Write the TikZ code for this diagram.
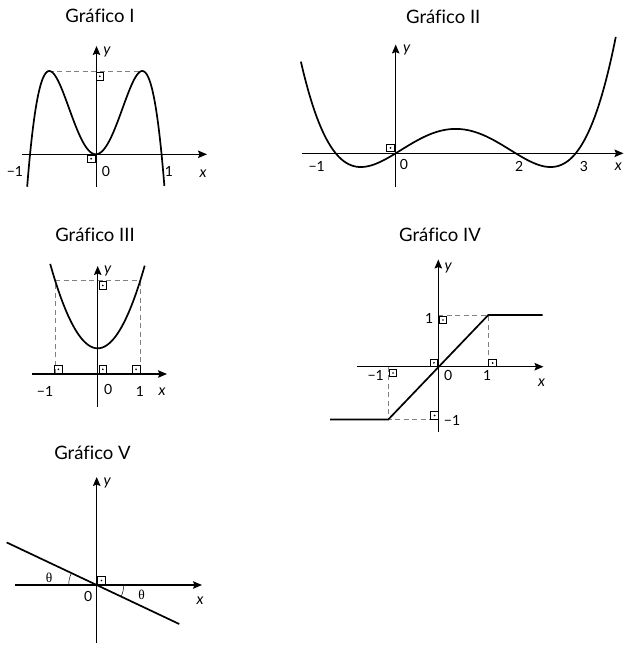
\documentclass[tikz,border=0pt]{standalone}
\usepackage{fontspec}
\setmainfont{Lato}[Ligatures={NoCommon}]
\newfontfamily\thetafont{Liberation Serif}
\usetikzlibrary{arrows.meta}
\tikzset{
  axis/.style={line width=1.1pt,-{Stealth[length=9pt,width=7.5pt,inset=1.5pt]}},
  curve/.style={line width=1.7pt},
  guide/.style={line width=0.8pt,gray,dash pattern=on 5pt off 3.5pt},
  title/.style={font=\fontsize{18.5}{20}\selectfont,inner sep=0pt},
  lab/.style={font=\fontsize{14}{16}\selectfont,inner sep=0pt},
  vlab/.style={font=\fontsize{15}{16}\selectfont\itshape,inner sep=0pt},
  thlab/.style={font=\fontsize{13.5}{14}\selectfont\thetafont,inner sep=0pt},
  anglearc/.style={line width=0.5pt},
  sqm/.pic={\draw[line width=0.75pt] (-3.8,-3.8) rectangle (3.8,3.8); \fill (0,0) circle (0.95);}
}
\begin{document}
\begin{tikzpicture}[x=1pt,y=-1pt]
\useasboundingbox (0,0) rectangle (624,646);
% ---------------- Grafico I ----------------
\node[title] (t1) at (100,16) {Gráfico I};
\draw[guide] (48.5,71) -- (143,71);
\coordinate (o1) at (96.5,154.3);
\draw[axis] (21.7,154.3) -- (207,154.3);
\draw[axis] (96.5,186.7) -- (96.5,46);
\draw[curve] plot[domain=-1.476:1.476,samples=120,smooth] ({95.8+46.5*\x},{154.3-83.3*(2*\x*\x-\x*\x*\x*\x)});
\pic at (99.8,76.3) {sqm};
\pic at (91.1,158.7) {sqm};
\node[vlab] (y1) at (107,52) {y};
\node[vlab] (x1) at (203,174) {x};
\node[lab] (m1a) at (15,171) {−1};
\node[lab] (z1) at (106,171) {0};
\node[lab] (p1a) at (169,171) {1};
% ---------------- Grafico II ----------------
\node[title] (t2) at (443.3,17) {Gráfico II};
\draw[axis] (301.7,153.3) -- (623.5,153.3);
\draw[axis] (395.7,186.7) -- (395.7,44.5);
\draw[curve] plot[domain=-1.58:3.67,samples=160,smooth] ({395.7+60*\x},{153.3-6.1*(\x*(\x+1)*(\x-2)*(\x-3))});
\pic at (390.5,147.8) {sqm};
\node[vlab] (y2) at (406.7,50) {y};
\node[vlab] (x2) at (618.3,167) {x};
\node[lab] (m2a) at (316.7,166.7) {−1};
\node[lab] (z2) at (404,164) {0};
\node[lab] (d2) at (519.3,166.7) {2};
\node[lab] (d3) at (584,166.7) {3};
% ---------------- Grafico III ----------------
\node[title] (t3) at (95,235) {Gráfico III};
\draw[guide] (55,374) -- (55,280.7) -- (140,280.7) -- (140,374);
\draw[axis] (31.7,374) -- (167,374);
\draw[axis] (97.7,406.7) -- (97.7,266);
\draw[curve] plot[domain=-47.5:47,samples=80,smooth] ({97.7+\x},{348.3-0.0374*\x*\x});
\pic at (58.4,369.3) {sqm};
\pic at (102.8,369.3) {sqm};
\pic at (136.1,369.3) {sqm};
\pic at (102.8,285.5) {sqm};
\node[vlab] (y3) at (107.7,271) {y};
\node[vlab] (x3) at (162,392) {x};
\node[lab] (m3a) at (45,391) {−1};
\node[lab] (z3) at (108.3,389) {0};
\node[lab] (p3a) at (140,391) {1};
% ---------------- Grafico IV ----------------
\node[title] (t4) at (440,235) {Gráfico IV};
\draw[guide] (438.3,315) -- (488.3,315) -- (488.3,366.7);
\draw[guide] (388.3,366.7) -- (388.3,419.5) -- (438.3,419.5);
\draw[axis] (356.7,366.7) -- (543.5,366.7);
\draw[axis] (438.3,431.7) -- (438.3,259.5);
\draw[curve] (330,419.5) -- (388.3,419.5) -- (488.3,315) -- (542.7,315);
\pic at (443,320) {sqm};
\pic at (433.9,362.8) {sqm};
\pic at (492.6,363) {sqm};
\pic at (393,373) {sqm};
\pic at (434.6,415.5) {sqm};
\node[vlab] (y4) at (448.3,267.7) {y};
\node[vlab] (x4) at (541.7,383) {x};
\node[lab] (m4a) at (375.7,375.7) {−1};
\node[lab] (z4) at (448.3,375) {0};
\node[lab] (p4a) at (487.3,375) {1};
\node[lab] (p4b) at (429.3,318.3) {1};
\node[lab] (m4b) at (452,420.7) {−1};
% ---------------- Grafico V ----------------
\node[title] (t5) at (92.5,453.3) {Gráfico V};
\coordinate (o5) at (96.7,585);
\draw[axis] (15,585) -- (202,585);
\draw[axis] (96.7,643.3) -- (96.7,477);
\draw[curve] (o5) -- ++(205.3:99.6) (o5) -- ++(25.3:91.3);
\draw[anglearc] (o5) ++(180:28) arc[start angle=180,end angle=205.3,radius=28];
\draw[anglearc] (o5) ++(0:27) arc[start angle=0,end angle=25.3,radius=27];
\pic at (101.5,580.5) {sqm};
\node[vlab] (y5) at (107.3,483.3) {y};
\node[vlab] (x5) at (200,601) {x};
\node[lab] (z5) at (88.3,596.7) {0};
\node[thlab] (th1) at (49,577.7) {θ};
\node[thlab] (th2) at (141.7,595) {θ};
\end{tikzpicture}
\end{document}
